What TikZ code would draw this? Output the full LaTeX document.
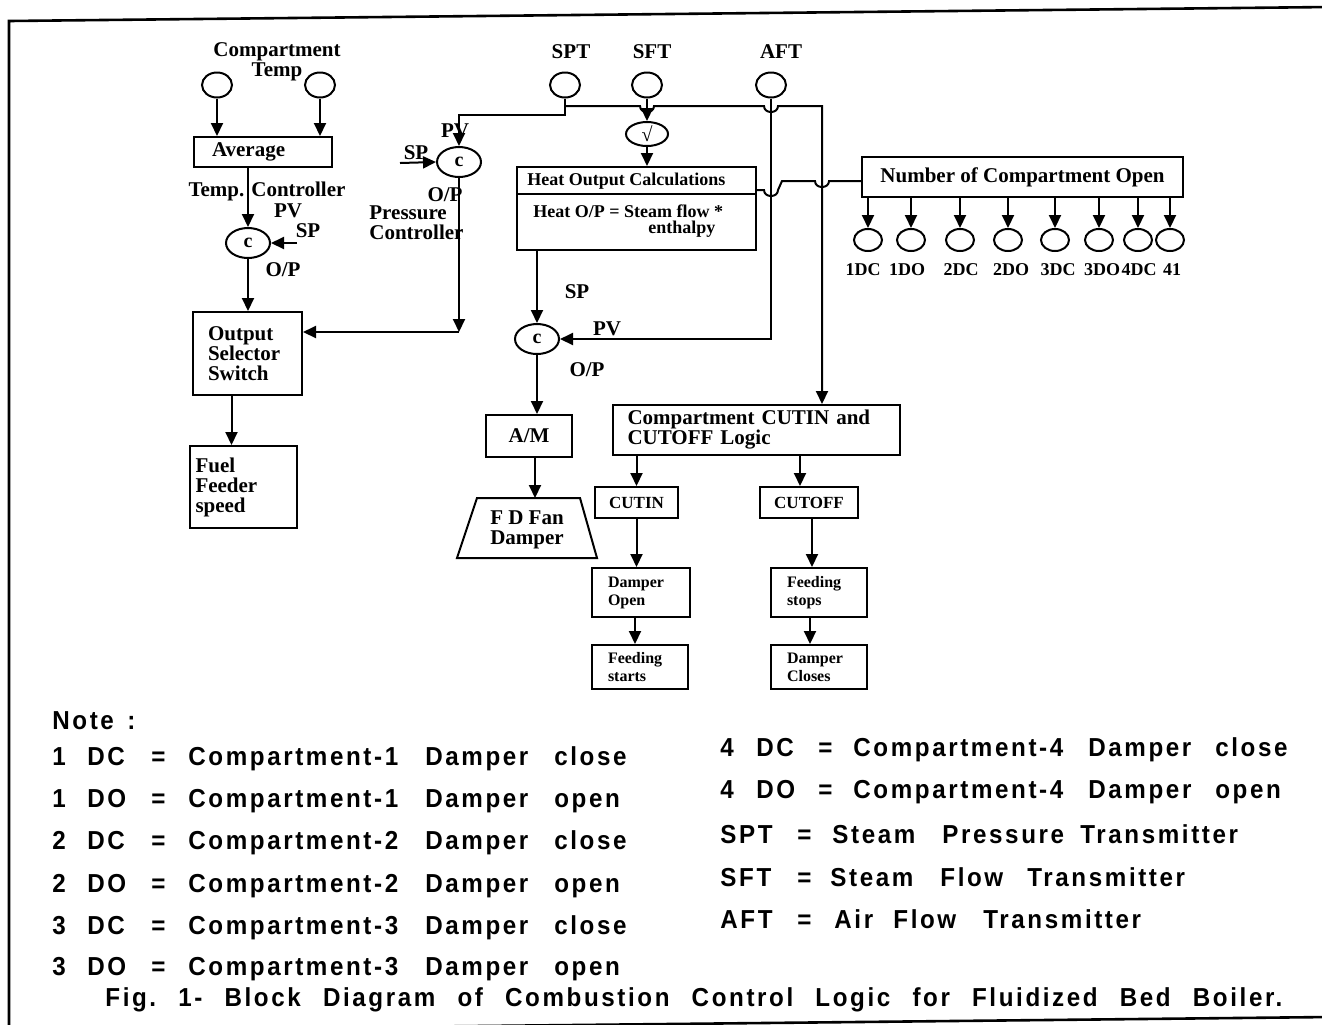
\documentclass[tikz,border=0pt]{standalone}
\usepackage{fontspec}
\setmainfont{Liberation Serif}
\newfontfamily\notefont[LetterSpace=10,FakeStretch=0.93]{Liberation Sans}
\usetikzlibrary{arrows.meta,shapes.geometric}
\newcommand{\nlL}[4]{\makebox[17.5pt][l]{#1}\makebox[32pt][l]{#2}\makebox[18.5pt][l]{=}\makebox[118.5pt][l]{#3}\makebox[64.5pt][l]{Damper}#4}
\newcommand{\nlR}[2]{\makebox[18pt][l]{4}\makebox[31pt][l]{#1}\makebox[17.5pt][l]{=}\makebox[117.5pt][l]{Compartment-4}\makebox[63.5pt][l]{Damper}#2}
\begin{document}
\begin{tikzpicture}[x=0.5pt,y=-0.5pt,
 ln/.style={line width=1pt},
 arr/.style={line width=1pt,-{Triangle[length=6.5pt,width=6pt]}},
 lbl/.style={inner sep=0pt,font=\fontsize{10.5}{10}\selectfont\bfseries},
 slbl/.style={inner sep=0pt,font=\fontsize{9}{9}\selectfont\bfseries},
 bx/.style={draw,line width=1pt,inner ysep=0pt,font=\fontsize{10.5}{10}\selectfont\bfseries},
 sbx/.style={bx,font=\fontsize{8}{9}\selectfont\bfseries},
 sens/.style={ellipse,draw,line width=1pt,inner sep=0pt,minimum width=15pt,minimum height=12.5pt},
 ctrl/.style={ellipse,draw,line width=1pt,inner sep=0pt,minimum width=22pt,minimum height=15pt,font=\fontsize{10}{10}\selectfont\bfseries},
 note/.style={anchor=west,inner sep=0pt,font=\notefont\fontsize{13}{14}\selectfont\bfseries},
]
\fill[white] (0,0) rectangle (1322,1024);
\useasboundingbox (0,0) rectangle (1322,1024);
\draw[line width=1.3pt] (1330,7) -- (9,21) -- (9,1031) -- (1330,1017);

% ---- temperature branch
\node[lbl,align=center] (ctl) at (277,62) {Compartment\\Temp};
\node[sens] (ct1) at (217,85) {};
\node[sens] (ct2) at (320,85) {};
\node[bx,minimum height=15pt,text width=51pt,inner xsep=9pt,align=left] (avg) at (263,152) {Average};
\node[ctrl] (tc) at (248,243) {c};
\node[lbl] (tcl) at (267,191) {Temp. Controller};
\node[lbl] (tcpv) at (288,211) {PV};
\node[lbl] (tcsp) at (308,231) {SP};
\coordinate (tcspa) at (297,243);
\node[lbl] (tcop) at (283,270) {O/P};
\node[bx,minimum height=41.5pt,text width=39.5pt,inner xsep=7.5pt,align=left] (oss) at (247.5,353.5) {Output\\Selector\\Switch};
\node[bx,minimum height=41pt,text width=48pt,inner xsep=2.75pt,align=left] (fuel) at (243.5,487) {Fuel\\Feeder\\speed};

% ---- pressure controller
\node[ctrl] (pc) at (459,162) {c};
\node[lbl] (pcpv) at (455,131) {PV};
\node[lbl] (pcsp) at (416,153) {SP};
\coordinate (pcspa) at (400,163);
\node[lbl] (pcop) at (445,195) {O/P};
\node[lbl,align=left,anchor=west] (pcl) at (369,223) {Pressure\\Controller};
\coordinate (pcc) at (459,332);

% ---- transmitters
\node[lbl] (sptl) at (571,52) {SPT};
\node[lbl] (sftl) at (652,52) {SFT};
\node[lbl] (aftl) at (781,52) {AFT};
\node[sens] (spt) at (565,85) {};
\node[sens] (sft) at (647,85) {};
\node[sens] (aft) at (771,85) {};
\node[ctrl,minimum width=21pt,minimum height=12pt] (sq) at (647,134) {√};

% ---- heat output
\node[draw,line width=1pt,minimum width=119.5pt,minimum height=41.5pt,inner sep=0pt] (heat) at (636.5,208.5) {};
\node[slbl,anchor=west] (h1) at (527,181) {Heat Output Calculations};
\node[slbl,anchor=west] (h2) at (533,211) {Heat O/P = Steam flow *};
\node[slbl,anchor=west] (h3) at (648,229) {enthalpy};
\coordinate (hdiv) at (0,194);
\draw[ln] (heat.west |- hdiv) -- (heat.east |- hdiv);

% ---- FD fan controller
\node[ctrl] (fc) at (537,339) {c};
\node[lbl] (fcsp) at (577,292) {SP};
\node[lbl] (fcpv) at (607,329) {PV};
\node[lbl] (fcop) at (587,370) {O/P};
\node[bx,minimum width=43pt,minimum height=21pt] (am) at (529,436) {A/M};
\coordinate (fdtop) at (535,498);
\draw[ln] (477,498) -- (580,498) -- (597,558) -- (457,558) -- cycle;
\node[lbl,align=center] (fdd) at (527,530) {F D Fan\\Damper};

% ---- number of compartments
\node[bx,minimum width=160.5pt,minimum height=20pt] (num) at (1022.5,177) {Number of Compartment Open};
\foreach \n/\x/\lx/\t in {1/868/863/1DC,2/911/907/1DO,3/960/961/2DC,4/1008/1011/2DO,5/1055/1058/3DC,6/1099/1102/3DO,7/1138/1139/4DC,8/1170/1172/41}{
  \node[sens,minimum width=14pt,minimum height=11pt] (d\n) at (\x,240) {};
  \draw[arr] (d\n.north |- num.south) -- (d\n.north);
  \node[slbl] (dl\n) at (\lx,270) {\t};
}

% ---- cut in / cut off logic
\node[bx,minimum height=25pt,text width=128.5pt,inner xsep=7.5pt,align=left] (cl) at (756,430) {Compartment CUTIN and\\CUTOFF Logic};
\node[bx,font=\fontsize{8.5}{9}\selectfont\bfseries,minimum width=41.5pt,minimum height=15.5pt] (cutin) at (636.5,502.5) {CUTIN};
\node[bx,font=\fontsize{8.5}{9}\selectfont\bfseries,minimum width=49pt,minimum height=15.5pt] (cutoff) at (809,502.5) {CUTOFF};
\node[sbx,minimum height=24.5pt,text width=33pt,inner xsep=8pt,align=left] (dop) at (641,592.5) {Damper\\Open};
\node[sbx,minimum height=22pt,text width=32pt,inner xsep=8pt,align=left] (fst) at (640,667) {Feeding\\starts};
\node[sbx,minimum height=24.5pt,text width=32pt,inner xsep=8pt,align=left] (fsp) at (819,592.5) {Feeding\\stops};
\node[sbx,minimum height=22pt,text width=32pt,inner xsep=8pt,align=left] (dcl) at (819,667) {Damper\\Closes};

% ---- connectors
\draw[arr] (ct1.south) -- (ct1.south |- avg.north);
\draw[arr] (ct2.south) -- (ct2.south |- avg.north);
\draw[arr] (tc.north |- avg.south) -- (tc.north);
\draw[arr] (tcspa) -- (tc.east);
\draw[arr] (tc.south) -- (tc.south |- oss.north);
\coordinate (osss) at ([xshift=-8pt]oss.south);
\draw[arr] (osss) -- (osss |- fuel.north);

\coordinate (sptj) at (565,115);
\draw[arr] (spt.south) -- (sptj) -| (pc.north);
\draw[arr] (pcspa) -- (pc.west);
\draw[arr] (pc.south) -- (pcc);
\draw[arr] (pcc) -- (oss.east |- pcc);

\coordinate (spts) at (565,106);
\coordinate (sptr) at (822,106);
\draw[arr] (spts) -- (640,106) .. controls (640,114) and (654,114) .. (654,106) -- (764,106) .. controls (764,114) and (778,114) .. (778,106) -- (sptr) -- (sptr |- cl.north);

\draw[arr] (sft.south) -- (sq.north);
\draw[arr] (sq.south) -- (sq.south |- heat.north);
\draw[arr] (aft.south) |- (fc.east);
\draw[arr] (fc.north |- heat.south) -- (fc.north);
\draw[arr] (fc.south) -- (fc.south |- am.north);
\draw[arr] (am.south -| fdtop) -- (fdtop);

\coordinate (hy) at (0,190);
\coordinate (ny) at (0,181);
\draw[ln] (heat.east |- hy) -- (764,190) .. controls (764,198) and (778,198) .. (778,190) -- (782,181) -- (815,181) .. controls (815,189) and (829,189) .. (829,181) -- (num.west |- ny);

\draw[arr] (cutin.north |- cl.south) -- (cutin.north);
\coordinate (coin) at ([xshift=-4.5pt]cutoff.north);
\draw[arr] (coin |- cl.south) -- (coin);
\draw[arr] (cutin.south) -- (cutin.south |- dop.north);
\coordinate (dops) at ([xshift=-3pt]dop.south);
\draw[arr] (dops) -- (dops |- fst.north);
\coordinate (cos) at ([xshift=1.5pt]cutoff.south);
\draw[arr] (cos) -- (cos |- fsp.north);
\coordinate (fsps) at ([xshift=-4.5pt]fsp.south);
\draw[arr] (fsps) -- (fsps |- dcl.north);

% ---- notes
\node[note] (n0) at (52,721) {\makebox[37.5pt][l]{Note}:};
\node[note] (n1) at (52,759) {\nlL{1}{DC}{Compartment-1}{close}};
\node[note] (n2) at (52,801) {\nlL{1}{DO}{Compartment-1}{open}};
\node[note] (n3) at (52,843) {\nlL{2}{DC}{Compartment-2}{close}};
\node[note] (n4) at (52,886) {\nlL{2}{DO}{Compartment-2}{open}};
\node[note] (n5) at (52,928) {\nlL{3}{DC}{Compartment-3}{close}};
\node[note] (n6) at (52,969) {\nlL{3}{DO}{Compartment-3}{open}};
\node[note] (r1) at (720,750) {\nlR{DC}{close}};
\node[note] (r2) at (720,792) {\nlR{DO}{open}};
\node[note] (r3) at (720,834) {\makebox[38.5pt][l]{SPT}\makebox[17.5pt][l]{=}\makebox[55pt][l]{Steam}\makebox[69pt][l]{Pressure}Transmitter};
\node[note] (r4) at (720,877) {\makebox[38.5pt][l]{SFT}\makebox[16.5pt][l]{=}\makebox[55pt][l]{Steam}\makebox[43.5pt][l]{Flow}Transmitter};
\node[note] (r5) at (720,919) {\makebox[38.5pt][l]{AFT}\makebox[18.5pt][l]{=}\makebox[29.5pt][l]{Air}\makebox[45pt][l]{Flow}Transmitter};
\node[note] (cap) at (105,1000) {\makebox[588.5pt][s]{Fig.\ 1- Block Diagram of Combustion Control Logic for Fluidized Bed Boiler.}};
\end{tikzpicture}
\end{document}
